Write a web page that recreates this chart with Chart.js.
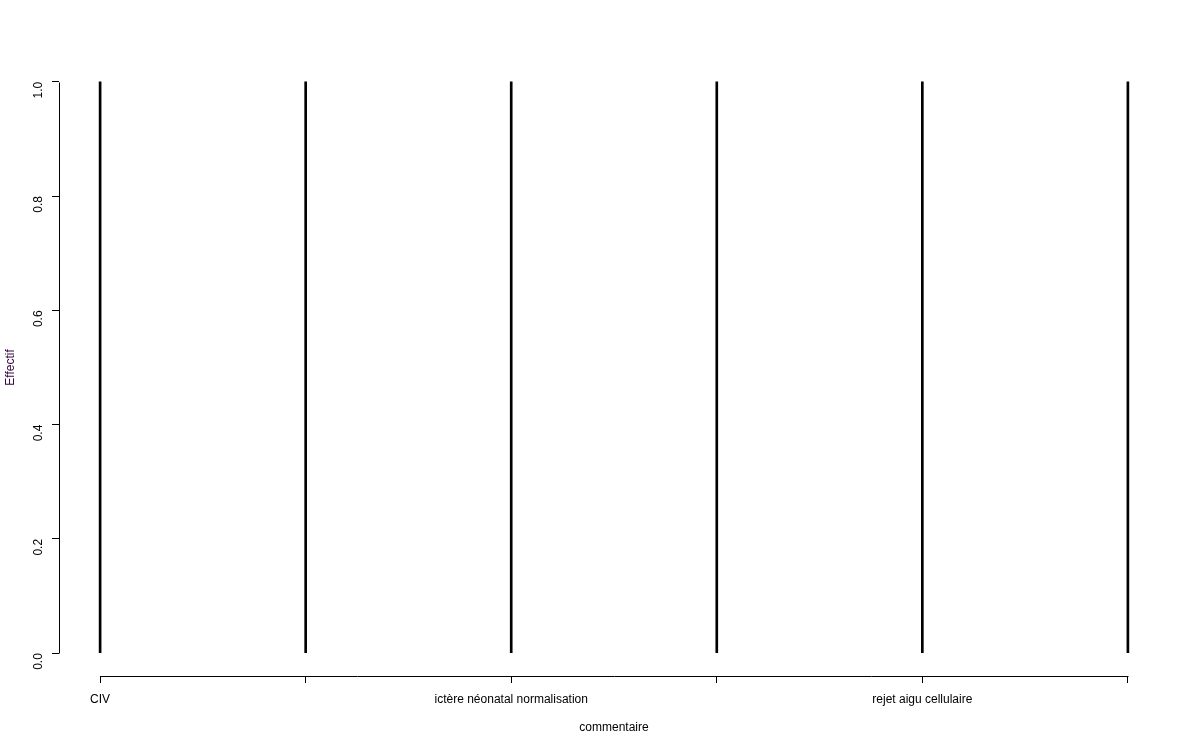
<!DOCTYPE html>
<html>
<head>
<meta charset="utf-8">
<script src="https://cdn.jsdelivr.net/npm/chart.js@4"></script>
<style>
html,body{margin:0;padding:0;background:#fff;}
#wrap{width:1200px;height:750px;}
</style>
</head>
<body>
<div id="wrap"><canvas id="c" width="1200" height="750"></canvas></div>
<script>
// Categories (only every other label is printed, as in the original R plot)
const categories = ["CIV", "", "ictère néonatal normalisation", "", "rejet aigu cellulaire", ""];
const values = [1, 1, 1, 1, 1, 1];
const yTicks = [0, 0.2, 0.4, 0.6, 0.8, 1.0];
const xTickPositions = [1, 2, 3, 4, 5, 6];
const shownLabelIdx = [0, 2, 4];

const FONT = "'Liberation Sans', Arial, sans-serif";

const rAxes = {
  id: 'rAxes',
  afterDraw(chart) {
    const ctx = chart.ctx;
    const xs = chart.scales.x, ys = chart.scales.y;
    const ca = chart.chartArea;
    ctx.save();
    ctx.strokeStyle = '#000';
    ctx.lineWidth = 1;
    const yTop = Math.round(ys.getPixelForValue(yTicks[yTicks.length - 1])) + 0.5;
    const yBot = Math.round(ys.getPixelForValue(yTicks[0])) + 0.5;
    const xl = Math.round(ca.left) + 0.5;
    ctx.beginPath();
    ctx.moveTo(xl, yTop);
    ctx.lineTo(xl, yBot);
    ctx.stroke();
    const xA = Math.round(xs.getPixelForValue(xTickPositions[0])) + 0.5;
    const xB = Math.round(xs.getPixelForValue(xTickPositions[xTickPositions.length - 1])) + 0.5;
    const yb = Math.round(ca.bottom) + 0.5;
    ctx.beginPath();
    ctx.moveTo(xA, yb);
    ctx.lineTo(xB, yb);
    ctx.stroke();
    ctx.restore();
  }
};

new Chart(document.getElementById('c'), {
  type: 'bar',
  data: {
    datasets: [{
      data: values.map((v, i) => ({x: i + 1, y: v})),
      backgroundColor: '#000',
      borderWidth: 0,
      barThickness: 2
    }]
  },
  options: {
    responsive: false,
    animation: false,
    devicePixelRatio: 1,
    layout: {padding: {top: 59, right: 31, left: 0, bottom: 0}},
    plugins: {legend: {display: false}, tooltip: {enabled: false}},
    scales: {
      x: {
        type: 'linear',
        offset: false,
        min: 0.8,
        max: 6.2,
        afterBuildTicks: (axis) => { axis.ticks = xTickPositions.map(v => ({value: v})); },
        afterFit: (s) => { s.height = 74; },
        ticks: {
          autoSkip: false,
          maxRotation: 0,
          minRotation: 0,
          padding: 9,
          color: '#000',
          font: {family: FONT, size: 12},
          callback: (v) => {
            const i = Math.round(v) - 1;
            return shownLabelIdx.includes(i) ? categories[i] : '';
          }
        },
        grid: {display: true, offset: false, drawOnChartArea: false, drawTicks: true, tickLength: 7, color: '#000', lineWidth: 1},
        border: {display: false},
        title: {display: true, text: 'commentaire', color: '#000', font: {family: FONT, size: 12}, padding: {top: 0, bottom: 15}}
      },
      y: {
        type: 'linear',
        min: -0.04,
        max: 1.04,
        afterBuildTicks: (axis) => { axis.ticks = yTicks.map(v => ({value: v})); },
        afterFit: (s) => { s.width = 59; },
        ticks: {
          minRotation: 90,
          maxRotation: 90,
          padding: 13,
          color: '#000',
          font: {family: FONT, size: 12},
          callback: (v) => Number(v).toFixed(1)
        },
        grid: {display: true, drawOnChartArea: false, drawTicks: true, tickLength: 7, color: '#000', lineWidth: 1},
        border: {display: false},
        title: {display: true, text: 'Effectif', color: '#330040', font: {family: FONT, size: 12}, padding: {top: 3, bottom: 0}}
      }
    }
  },
  plugins: [rAxes]
});
</script>
</body>
</html>
